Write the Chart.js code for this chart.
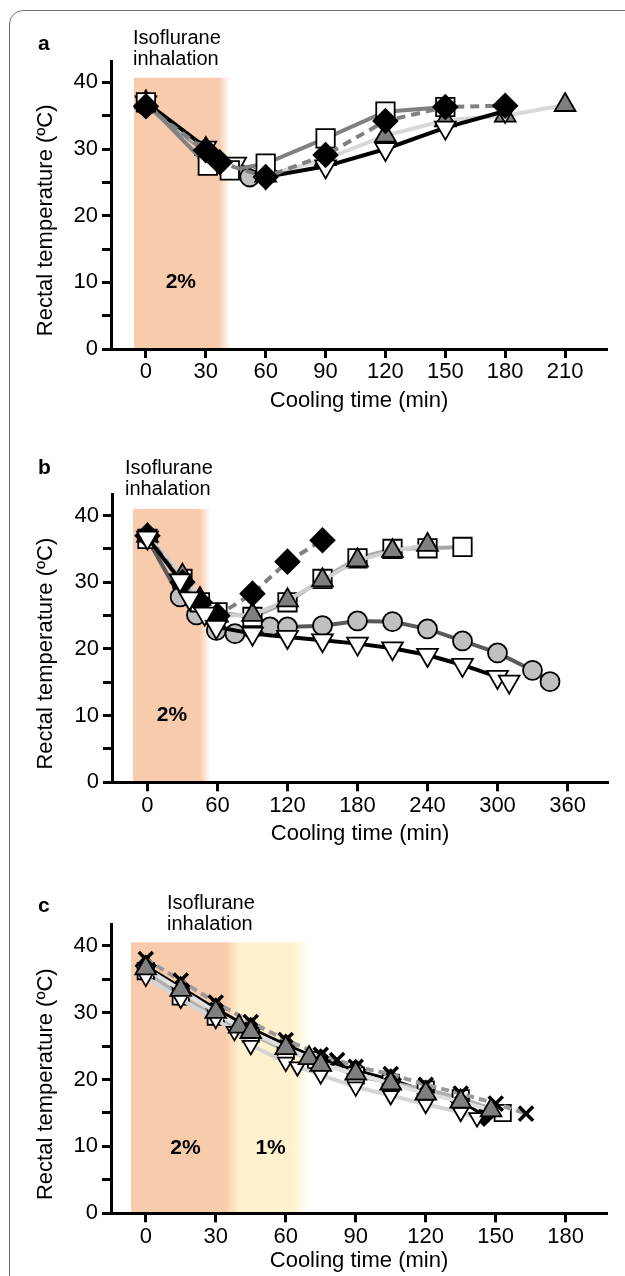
<!DOCTYPE html>
<html>
<head>
<meta charset="utf-8">
<title>Rectal temperature during cooling</title>
<script src="https://cdn.jsdelivr.net/npm/chart.js"></script>
<style>
  body { margin: 0; background: #fff; font-family: 'Liberation Sans', Arial, sans-serif; overflow: hidden; }
  #page { position: relative; width: 625px; height: 1276px; overflow: hidden; }
  .frame { position: absolute; left: 9px; top: 10px; width: 900px; height: 1500px;
           border: 1.5px solid #707070; border-radius: 14px; }
  canvas { position: absolute; left: 0; }
  .tag { position: absolute; font-weight: bold; font-size: 21px; }
  .iso { position: absolute; font-size: 20px; line-height: 21px; }
</style>
</head>
<body>
<div id="page">
  <div class="frame"></div>
  <canvas id="ca" width="625" height="425" style="top:0"></canvas>
  <canvas id="cb" width="625" height="430" style="top:425px"></canvas>
  <canvas id="cc" width="625" height="421" style="top:855px"></canvas>
  <div class="tag" style="left:38px;top:31px">a</div>
  <div class="iso" style="left:133px;top:27px">Isoflurane<br>inhalation</div>
  <div class="tag" style="left:38px;top:455px">b</div>
  <div class="iso" style="left:125px;top:457px">Isoflurane<br>inhalation</div>
  <div class="tag" style="left:38px;top:893px">c</div>
  <div class="iso" style="left:167px;top:892px">Isoflurane<br>inhalation</div>
</div>
<script>
// ---- panel a ----
const aTicks = [0, 30, 60, 90, 120, 150, 180, 210];
const aDiamondT = [0, 30, 37, 60, 90, 120, 150, 180];
const aDiamondV = [36.4, 29.8, 28, 25.8, 29.1, 34.2, 36.3, 36.5];
const aSquareT = [0, 31, 42, 60, 90, 120, 150];
const aSquareV = [37, 27.5, 26.8, 27.8, 31.6, 35.6, 36.3];
const aInvTriT = [0, 30, 45, 60, 90, 120, 150, 180];
const aInvTriV = [37, 30.2, 27.8, 25.8, 27.4, 30, 33.2, 35.7];
const aTriT = [0, 30, 60, 90, 120, 150, 180, 210];
const aTriV = [37, 30, 26, 28.5, 32, 34.3, 35, 36.6];
const aCircleT = [0, 30, 52];
const aCircleV = [36.5, 29.5, 25.8];

// ---- panel b ----
const bTicks = [0, 60, 120, 180, 240, 300, 360];
const bDiamondT = [0, 30, 45, 60, 90, 120, 150];
const bDiamondV = [37, 30, 27, 25, 28.3, 33.1, 36.3];
const bInvTriT = [0, 28, 36, 49, 59, 90, 120, 150, 180, 210, 240, 270, 300, 310];
const bInvTriV = [36.7, 30.3, 27.6, 25.3, 23.3, 22.3, 21.8, 21.3, 20.8, 20.1, 19.1, 17.6, 15.8, 15.1];
const bTriT = [0, 30, 45, 60, 90, 120, 150, 180, 210, 240];
const bTriV = [37, 31, 27.5, 25, 25.1, 27.3, 30.3, 33.3, 34.7, 35.6];
const bSquareT = [0, 30, 45, 60, 90, 120, 150, 180, 210, 240, 270];
const bSquareV = [36.5, 30.5, 27, 25.5, 24.8, 27, 30.5, 33.6, 35, 35.1, 35.3];
const bCircleT = [0, 28, 42, 59, 75, 90, 105, 120, 150, 180, 210, 240, 270, 300, 330, 345];
const bCircleV = [36.5, 27.8, 25.1, 22.8, 22.3, 23, 23.3, 23.3, 23.5, 24.2, 24.1, 23, 21.2, 19.4, 16.8, 15.1];

// ---- panel c ----
const cTicks = [0, 30, 60, 90, 120, 150, 180];
const cCrossT = [0, 15, 30, 45, 60, 75, 82, 90, 105, 120, 135, 150, 163];
const cCrossV = [38, 34.8, 31.5, 28.6, 25.9, 23.7, 22.9, 21.9, 20.8, 19.2, 17.9, 16.4, 14.9];
const cTriT = [0, 15, 30, 40, 45, 60, 70, 75, 90, 105, 120, 135, 148];
const cTriV = [36.6, 33.4, 30.1, 27.9, 27.1, 24.7, 23.2, 22.2, 20.9, 19.4, 17.9, 16.7, 15.4];
const cSquareT = [0, 15, 30, 45, 60, 73, 90, 105, 120, 135, 153];
const cSquareV = [36.2, 32.4, 29.4, 26.9, 24.3, 22.9, 20.6, 19.5, 18.5, 17.2, 15];
const cInvTriT = [0, 15, 30, 38, 45, 60, 65, 75, 90, 105, 120, 135, 142];
const cInvTriV = [35.3, 32, 29, 27.2, 25.1, 22.6, 21.9, 20.7, 18.9, 17.6, 16.3, 15.1, 14.3];
const cDiamondT = [0, 15, 30, 45, 60, 75, 90, 105, 120, 135, 145];
const cDiamondV = [37, 33.8, 30.6, 27.7, 25.2, 23, 21.4, 20, 18.3, 16.8, 14.6];

// shared y axis
const yTicks = [0, 5, 10, 15, 20, 25, 30, 35, 40];
const yLabels = ['0', '', '10', '', '20', '', '30', '', '40'];

// isoflurane periods as gradient stops along the time axis
const aBand = [[-6, '#f8cbad'], [36.5, '#f8cbad'], [42, 'rgba(248,203,173,0)']];
const bBand = [[-12.4, '#f8cbad'], [45, '#f8cbad'], [54, 'rgba(248,203,173,0)']];
const cBand = [[-6.3, '#f8cbad'], [34, '#f8cbad'], [40, '#fff1cd'], [63, '#fff1cd'], [70, 'rgba(255,241,205,0)']];
const aNotes = [['2%', 17.5, 10]];
const bNotes = [['2%', 21, 10]];
const cNotes = [['2%', 17, 9.8], ['1%', 53.5, 9.8]];

const FONT = "'Liberation Sans', Arial, sans-serif";

function series(ts, vs, shape, fill, line, opt) {
  opt = opt || {};
  return {
    data: ts.map((t, i) => ({ x: t, y: vs[i] })),
    showLine: true,
    borderColor: line,
    borderWidth: opt.lw || 4,
    borderDash: opt.dash || [],
    pointStyle: shape,
    pointRotation: opt.rot || 0,
    pointRadius: opt.r || 11,
    pointBackgroundColor: fill,
    pointBorderColor: '#000',
    pointBorderWidth: opt.pw || 1.8,
    clip: false
  };
}

const bandPlugin = {
  id: 'bands',
  beforeDraw(chart, args, o) {
    const { ctx, scales: { x, y } } = chart;
    const x0 = x.getPixelForValue(o.band[0][0]);
    const x1 = x.getPixelForValue(o.band[o.band.length - 1][0]);
    const yt = y.getPixelForValue(o.top), yb = y.getPixelForValue(0);
    const g = ctx.createLinearGradient(x0, 0, x1, 0);
    o.band.forEach(s => g.addColorStop((x.getPixelForValue(s[0]) - x0) / (x1 - x0), s[1]));
    ctx.save();
    ctx.fillStyle = g;
    ctx.fillRect(x0, yt, x1 - x0, yb - yt);
    ctx.fillStyle = '#000';
    ctx.font = 'bold 21px ' + FONT;
    ctx.textAlign = 'center';
    ctx.textBaseline = 'middle';
    o.notes.forEach(n => ctx.fillText(n[0], x.getPixelForValue(n[1]), y.getPixelForValue(n[2])));
    // y axis title, centred a little below the middle of the axis
    ctx.font = '22px ' + FONT;
    ctx.translate(46, y.getPixelForValue(19.3));
    ctx.rotate(-Math.PI / 2);
    ctx.fillText('Rectal temperature (ºC)', 0, 0);
    ctx.restore();
  }
};

function panel(id, datasets, p) {
  new Chart(document.getElementById(id), {
    type: 'scatter',
    data: { datasets },
    plugins: [bandPlugin],
    options: {
      responsive: false,
      animation: false,
      events: [],
      layout: { padding: { left: 0, right: p.right, top: p.top, bottom: p.bottom } },
      plugins: {
        legend: { display: false },
        tooltip: { enabled: false },
        bands: { band: p.band, top: p.bandTop, notes: p.notes }
      },
      scales: {
        x: {
          type: 'linear', min: p.xmin, max: p.xmax,
          border: { color: '#000', width: 3 },
          grid: { drawOnChartArea: false, tickLength: 9, tickWidth: 3, tickColor: '#000' },
          ticks: { color: '#000', font: { family: FONT, size: 22 }, padding: 1, maxRotation: 0 },
          afterBuildTicks: s => { s.ticks = p.ticks.map(v => ({ value: v })); },
          afterFit: s => { s.height = p.xh; },
          title: { display: true, text: 'Cooling time (min)', color: '#000', font: { family: FONT, size: 22 }, padding: 0 }
        },
        y: {
          type: 'linear', min: 0, max: 43.2,
          border: { color: '#000', width: 3 },
          grid: { drawOnChartArea: false, tickLength: 9, tickWidth: 3, tickColor: '#000' },
          ticks: { color: '#000', font: { family: FONT, size: 22 }, padding: 4,
                   callback: (v, i) => yLabels[i] },
          afterBuildTicks: s => { s.ticks = yTicks.map(v => ({ value: v })); },
          afterFit: s => { s.width = p.yw; }
        }
      }
    }
  });
}

panel('ca', [
  series(aDiamondT, aDiamondV, 'rectRot', '#000', '#808080', { dash: [9, 6], r: 12 }),
  series(aSquareT, aSquareV, 'rect', '#fff', '#808080', { r: 13 }),
  series(aInvTriT, aInvTriV, 'triangle', '#fff', '#000', { rot: 180, r: 12 }),
  series(aTriT, aTriV, 'triangle', '#7f7f7f', '#d9d9d9', { r: 12 }),
  series(aCircleT, aCircleV, 'circle', '#c0c0c0', '#999', { r: 9.5 })
], { xmin: -17.5, xmax: 231, ticks: aTicks, right: 18, top: 61, bottom: 11, xh: 65, yw: 111,
     band: aBand, bandTop: 40.7, notes: aNotes });

panel('cb', [
  series(bInvTriT, bInvTriV, 'triangle', '#fff', '#000', { rot: 180, r: 12 }),
  series(bDiamondT, bDiamondV, 'rectRot', '#000', '#808080', { dash: [9, 6], r: 12 }),
  series(bTriT, bTriV, 'triangle', '#7f7f7f', '#d0d0d0', { r: 12 }),
  series(bSquareT, bSquareV, 'rect', '#fff', '#a6a6a6', { r: 13 }),
  series(bCircleT, bCircleV, 'circle', '#c0c0c0', '#595959', { r: 9.5 })
], { xmin: -30.4, xmax: 394.7, ticks: bTicks, right: 17, top: 69.3, bottom: 7.7, xh: 65, yw: 112,
     band: bBand, bandTop: 41, notes: bNotes });

panel('cc', [
  series(cTriT, cTriV, 'triangle', '#7f7f7f', '#e0e0e0', { r: 12 }),
  series(cCrossT, cCrossV, 'crossRot', '#000', '#999', { dash: [8, 5], r: 10, pw: 3.5 }),
  series(cInvTriT, cInvTriV, 'triangle', '#fff', '#d4d4d4', { rot: 180, r: 9 }),
  series(cSquareT, cSquareV, 'rect', '#fff', '#b0b0b0', { r: 11.5 }),
  series(cDiamondT, cDiamondV, 'rectRot', '#000', '#000', { r: 10, lw: 3 })
], { xmin: -14.9, xmax: 197.7, ticks: cTicks, right: 18, top: 69.3, bottom: 1.7, xh: 61, yw: 111,
     band: cBand, bandTop: 40.5, notes: cNotes });
</script>
</body>
</html>
